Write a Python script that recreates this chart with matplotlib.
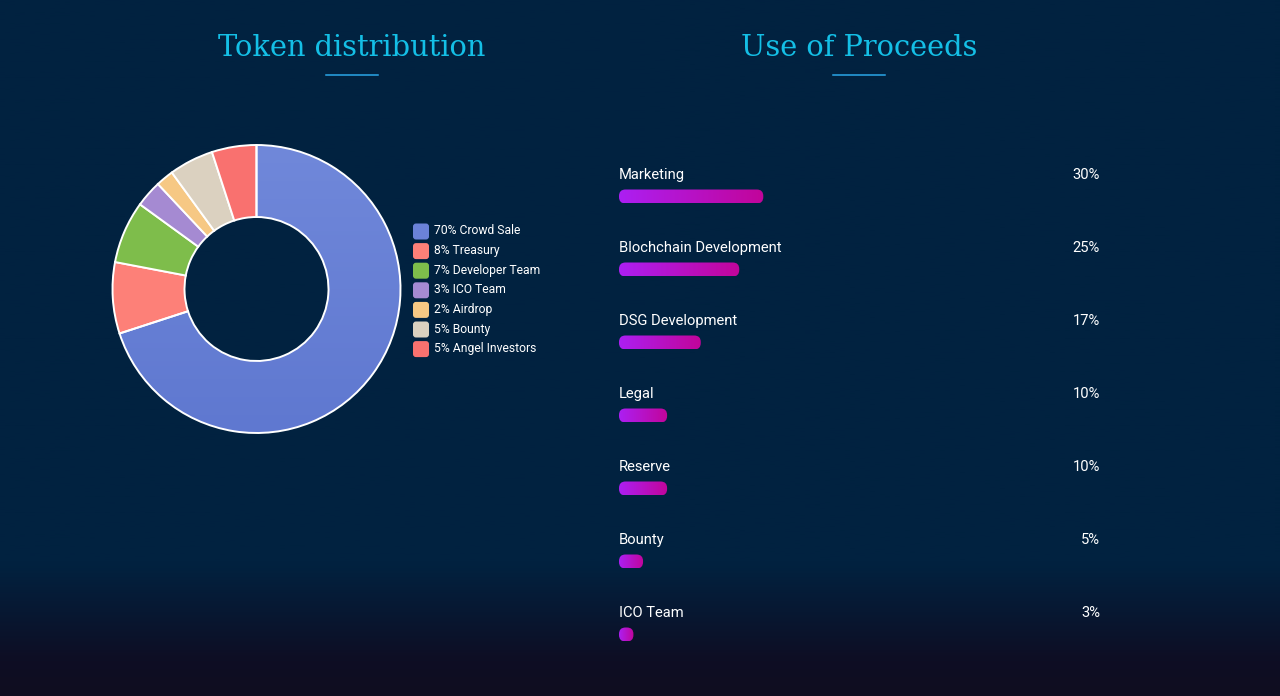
import numpy as np
import matplotlib
matplotlib.use("Agg")
import matplotlib.pyplot as plt
from matplotlib.colors import LinearSegmentedColormap
from matplotlib.patches import FancyBboxPatch

W, H = 1280, 696

# token distribution
token_labels = ["70% Crowd Sale", "8% Treasury", "7% Developer Team", "3% ICO Team",
                "2% Airdrop", "5% Bounty", "5% Angel Investors"]
token_values = [70, 8, 7, 3, 2, 5, 5]
token_colors = ["#6b82d8", "#fd8078", "#7ebd4b", "#a58ad2", "#f6c884", "#dbd1c0", "#f9716f"]

# use of proceeds
use_labels = ["Marketing", "Blochchain Development", "DSG Development", "Legal",
              "Reserve", "Bounty", "ICO Team"]
use_values = [30, 25, 17, 10, 10, 5, 3]

plt.rcParams["font.family"] = ["Roboto", "DejaVu Sans"]


def axes_px(fig, x0, y0, x1, y1):
    # axes from pixel box, y measured from the top
    return fig.add_axes([x0 / W, 1 - y1 / H, (x1 - x0) / W, (y1 - y0) / H])


fig = plt.figure(figsize=(12.8, 6.96), dpi=100)

# page background, dark fade at the bottom
bg = axes_px(fig, 0, 0, W, H)
bg.axis("off")
bg_cmap = LinearSegmentedColormap.from_list("bg", [(0, "#012240"), (0.81, "#012240"),
                                                   (0.95, "#0e0e24"), (1, "#100d20")])
bg.imshow(np.linspace(0, 1, 256).reshape(-1, 1), cmap=bg_cmap, aspect="auto", extent=[0, W, H, 0])
bg.set_xlim(0, W)
bg.set_ylim(H, 0)

# titles
for cx, title in [(352, "Token distribution"), (859, "Use of Proceeds")]:
    bg.text(cx, 47.5, title, color="#14bfe6", fontsize=20.8, family="DejaVu Serif",
            ha="center", va="center")
    bg.plot([cx - 26, cx + 26], [75, 75], color="#2aa6e8", lw=1.1)

# donut
ax = axes_px(fig, 111.5, 144, 401.5, 434)
wedges, _ = ax.pie(token_values, colors=token_colors, startangle=90, counterclock=False,
                   radius=1, wedgeprops=dict(width=0.5, edgecolor="white", linewidth=1.4))
big_cmap = LinearSegmentedColormap.from_list("big", ["#5f78d0", "#7088da"])
big = ax.imshow(np.linspace(0, 1, 64).reshape(-1, 1), cmap=big_cmap, origin="lower",
                extent=[-1, 1, -1, 1], aspect="auto", zorder=0.5)
big.set_clip_path(wedges[0])
wedges[0].set_facecolor("none")
wedges[0].set_zorder(2)
ax.set_xlim(-1.007, 1.007)
ax.set_ylim(-1.007, 1.007)

# legend
for i, (lab, col) in enumerate(zip(token_labels, token_colors)):
    y = 231.5 + i * 19.6
    bg.add_patch(FancyBboxPatch((413, y - 8), 16, 16, boxstyle="round,pad=0,rounding_size=3",
                                fc=col, ec="none"))
    bg.text(434.5, y - 0.5, lab, color="white", fontsize=8.7, ha="left", va="center")

# bars, x axis runs 0-100 over the full row width
bx0, bx1 = 619, 1100
top, row_h = 160, 73
bar_ax = axes_px(fig, bx0, top, bx1, top + row_h * len(use_values))
bar_ax.axis("off")
bar_ax.patch.set_alpha(0)
x_per_px = 100 / (bx1 - bx0)
y_per_px = 1 / row_h
bar_cmap = LinearSegmentedColormap.from_list("bar", ["#ac1ff2", "#c2059a"])
bar_h = 14 * y_per_px
bar_off = 36.5 * y_per_px

for i, (lab, val) in enumerate(zip(use_labels, use_values)):
    ycen = i + bar_off
    box = FancyBboxPatch((0, ycen - bar_h / 2), val, bar_h,
                         boxstyle=f"round,pad=0,rounding_size={6.5 * x_per_px}",
                         mutation_aspect=y_per_px / x_per_px, fc="none", ec="none")
    bar_ax.add_patch(box)
    im = bar_ax.imshow(np.linspace(0, 1, 128).reshape(1, -1), cmap=bar_cmap, aspect="auto",
                       extent=[0, val, ycen + bar_h / 2, ycen - bar_h / 2])
    im.set_clip_path(box)
    bar_ax.text(0, i + 15 * y_per_px, lab, color="white", fontsize=10.6, ha="left", va="center")
    bar_ax.text(100, i + 15 * y_per_px, f"{val}%", color="white", fontsize=10.6, ha="right", va="center")
bar_ax.set_xlim(0, 100)
bar_ax.set_ylim(len(use_values), 0)

fig.savefig("out.png", dpi=100)
